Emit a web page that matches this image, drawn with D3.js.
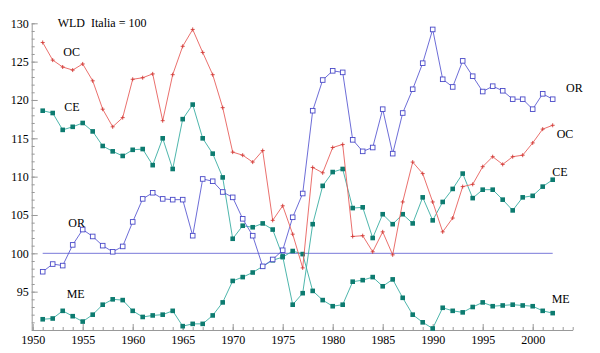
<!DOCTYPE html>
<html>
<head>
<meta charset="utf-8">
<script src="https://cdnjs.cloudflare.com/ajax/libs/d3/7.8.5/d3.min.js"></script>
<style>
body { margin: 0; background: #fff; }
text { font-family: "Liberation Serif", "DejaVu Serif", serif; }
</style>
</head>
<body>
<div id="chart"></div>
<script>
var years = d3.range(1951, 2003);
var oc = [127.5,125.2,124.3,123.9,124.7,122.5,118.8,116.5,117.7,122.7,
          122.9,123.4,117.3,123.3,127.0,129.2,126.2,123.3,119.0,113.2,
          112.8,111.9,113.4,104.3,106.2,102.5,98.1,111.2,110.5,113.8,
          114.2,102.2,102.3,100.2,102.8,99.8,106.7,111.9,110.4,106.7,
          102.8,104.6,108.7,109.0,111.3,112.6,111.6,112.6,112.8,114.4,
          116.2,116.7];
var ce = [118.6,118.3,116.1,116.5,117.0,115.9,114.0,113.3,112.7,113.5,
          113.6,111.5,115.0,111.0,117.5,119.4,115.0,113.0,109.9,101.9,
          103.6,103.4,103.9,103.1,99.6,93.3,94.8,103.8,108.8,110.6,
          111.0,105.9,106.0,102.0,105.1,103.8,105.1,103.9,107.3,104.3,
          106.7,108.4,110.4,107.2,108.3,108.3,107.0,105.6,107.3,107.5,
          108.7,109.6];
var or = [97.6,98.6,98.4,101.1,103.1,102.2,101.0,100.2,100.9,104.1,
          107.1,107.9,107.1,107.0,107.0,102.3,109.7,109.4,108.0,107.3,
          104.5,102.3,98.3,99.2,100.4,104.7,107.8,118.6,122.6,123.8,
          123.6,114.8,113.3,113.8,118.8,113.0,118.3,121.4,124.8,129.2,
          122.7,121.7,125.1,123.1,121.1,121.8,121.2,120.1,120.1,118.8,
          120.8,120.1];
var me = [91.4,91.5,92.5,91.8,91.1,92.0,93.3,94.0,93.9,92.5,
          91.7,91.9,92.0,92.5,90.5,90.8,90.8,91.9,93.6,96.4,
          96.9,97.5,98.3,99.1,99.5,100.3,99.9,95.1,93.9,93.1,
          93.3,96.3,96.5,96.9,95.7,96.6,94.2,92.0,91.0,90.2,
          92.9,92.5,92.3,93.0,93.6,93.1,93.2,93.3,93.2,93.1,
          92.5,92.2];
var xMajor = [1950, 1955, 1960, 1965, 1970, 1975, 1980, 1985, 1990, 1995, 2000];
var yMajor = [95, 100, 105, 110, 115, 120, 125, 130];

var w = 600, h = 353;

var x = d3.scaleLinear().domain([1950, 2004]).range([32.7, 572.7]);
var y = d3.scaleLinear().domain([90, 130]).range([330, 23.3]);

var svg = d3.select("#chart").append("svg")
    .attr("width", w).attr("height", h);

// axes: minor ticks first, then major with labels
var axisColor = "#999";

svg.append("g")
    .attr("transform", "translate(0,330)")
    .call(d3.axisBottom(x).tickValues(d3.range(1950, 2005)).tickSizeInner(-3).tickSizeOuter(0).tickFormat(""))
    .call(function(g) { g.selectAll("line,path").attr("stroke", axisColor); });
svg.append("g")
    .attr("transform", "translate(0,330)")
    .call(d3.axisBottom(x).tickValues(xMajor).tickSizeInner(-6).tickSizeOuter(0).tickPadding(5).tickFormat(d3.format("d")))
    .call(function(g) {
        g.select(".domain").remove();
        g.selectAll("line").attr("stroke", axisColor);
        g.selectAll("text").attr("fill", "#000").style("font-size", "12px")
            .style("font-family", "'Liberation Serif', serif");
    });

svg.append("g")
    .attr("transform", "translate(31.7,0)")
    .call(d3.axisLeft(y).tickValues(d3.range(90, 131)).tickSizeInner(-3).tickSizeOuter(0).tickFormat(""))
    .call(function(g) { g.selectAll("line,path").attr("stroke", axisColor); });
svg.append("g")
    .attr("transform", "translate(31.7,0)")
    .call(d3.axisLeft(y).tickValues(yMajor).tickSizeInner(-6).tickSizeOuter(0).tickPadding(3).tickFormat(d3.format("d")))
    .call(function(g) {
        g.select(".domain").remove();
        g.selectAll("line").attr("stroke", axisColor);
        g.selectAll("text").attr("fill", "#000").style("font-size", "12px")
            .style("font-family", "'Liberation Serif', serif");
    });

// reference line at 100
svg.append("line")
    .attr("x1", x(1951)).attr("x2", x(2002))
    .attr("y1", y(100)).attr("y2", y(100))
    .attr("stroke", "#6a6ad4").attr("stroke-width", 0.9);

var line = d3.line()
    .x(function(d, i) { return x(years[i]); })
    .y(function(d) { return y(d); });

function drawSeries(vals, lineColor, markColor, kind) {
    svg.append("path").datum(vals)
        .attr("fill", "none").attr("stroke", lineColor).attr("stroke-width", 0.9)
        .attr("d", line);
    var g = svg.append("g");
    vals.forEach(function(v, i) {
        var cx = x(years[i]), cy = y(v);
        if (kind == "filled") {
            g.append("rect").attr("x", cx - 2.3).attr("y", cy - 2.3)
                .attr("width", 4.6).attr("height", 4.6).attr("fill", markColor);
        } else if (kind == "open") {
            g.append("rect").attr("x", cx - 2.3).attr("y", cy - 2.3)
                .attr("width", 4.6).attr("height", 4.6)
                .attr("fill", "#fff").attr("stroke", markColor).attr("stroke-width", 0.9);
        } else {
            g.append("path").attr("d", "M" + (cx - 2) + "," + cy + "h4M" + cx + "," + (cy - 2) + "v4")
                .attr("stroke", markColor).attr("stroke-width", 0.9);
        }
    });
}

drawSeries(me, "#3aaea3", "#0d7b70", "filled");
drawSeries(ce, "#3aaea3", "#0d7b70", "filled");
drawSeries(or, "#5c5cd2", "#4a4ac8", "open");
drawSeries(oc, "#e8605c", "#d23c38", "plus");

// labels
var labels = [
    {t: "WLD  Italia = 100", x: 57.7, y: 27},
    {t: "OC", x: 63.3, y: 56},
    {t: "CE", x: 64.3, y: 111},
    {t: "OR", x: 68.3, y: 226.7},
    {t: "ME", x: 66.7, y: 297.7},
    {t: "OR", x: 566, y: 92},
    {t: "OC", x: 556.7, y: 138.3},
    {t: "CE", x: 552.3, y: 175.7},
    {t: "ME", x: 551.7, y: 302.7}
];
svg.selectAll("text.lab").data(labels).enter().append("text")
    .attr("class", "lab")
    .attr("x", function(d) { return d.x; })
    .attr("y", function(d) { return d.y; })
    .style("font-size", "12px")
    .style("white-space", "pre")
    .attr("fill", "#000")
    .text(function(d) { return d.t; });
</script>
</body>
</html>
